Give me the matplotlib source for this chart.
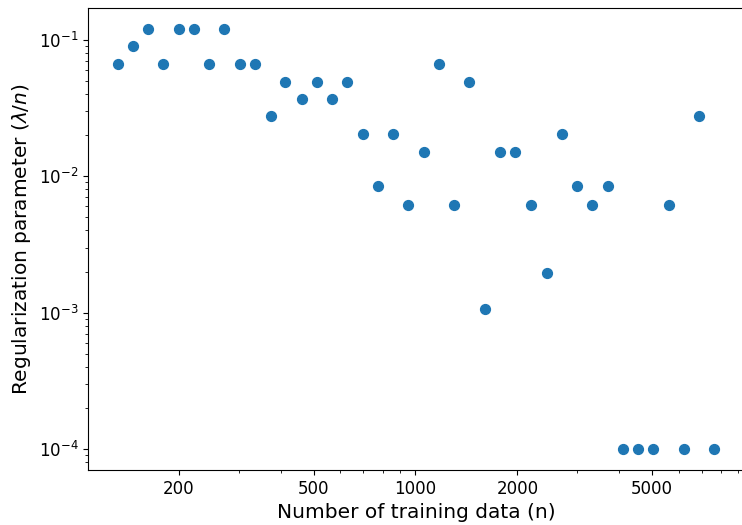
# Regularization parameter vs number of training data (log-log scatter)

import numpy as np
import matplotlib
matplotlib.use('Agg')
import matplotlib.pyplot as plt
from matplotlib.ticker import ScalarFormatter, NullFormatter

# number of training data
n_train = [132, 146, 162, 180, 200, 222, 246, 272, 304, 336,
           373, 413, 461, 511, 566, 627, 699, 774, 858, 951,
           1060, 1174, 1301, 1442, 1608, 1782, 1974, 2188, 2439, 2703,
           2995, 3320, 3701, 4101, 4545, 5037, 5614, 6221, 6895, 7641]

# best lambda / n
reg_param = [0.0667, 0.090, 0.120, 0.0667, 0.120, 0.120, 0.0667, 0.120, 0.0667, 0.0667,
             0.0274, 0.0493, 0.037, 0.0493, 0.037, 0.0493, 0.0205, 0.0085, 0.0205, 0.0062,
             0.0151, 0.0667, 0.0062, 0.0493, 0.00107, 0.0151, 0.0151, 0.0062, 0.00195, 0.0205,
             0.0085, 0.0062, 0.0085, 0.0001, 0.0001, 0.0001, 0.0062, 0.0001, 0.0274, 0.0001]

fig = plt.figure(figsize=(7.42, 5.25), dpi=100)
ax = fig.add_axes([88/742, 1 - 470/525, 1 - 88/742 + 0.003, (470 - 8)/525])

ax.scatter(n_train, reg_param, s=50, color='#1f77b4')
ax.set_xscale('log')
ax.set_yscale('log')

ax.set_xticks([200, 500, 1000, 2000, 5000])
ax.xaxis.set_major_formatter(ScalarFormatter())
ax.xaxis.set_minor_formatter(NullFormatter())

ax.tick_params(labelsize=12)
ax.set_xlabel('Number of training data (n)', fontsize=14.5)
ax.set_ylabel(r'Regularization parameter ($\lambda/n$)', fontsize=14.5)

fig.savefig('out.png', dpi=100)
